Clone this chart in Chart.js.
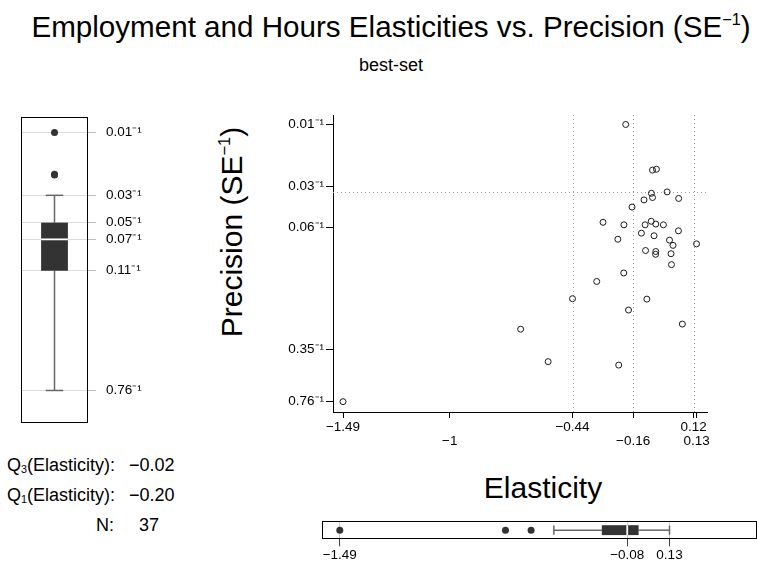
<!DOCTYPE html>
<html><head><meta charset="utf-8">
<script src="https://cdn.jsdelivr.net/npm/chart.js@4/dist/chart.umd.min.js"></script>
<style>
html,body{margin:0;padding:0;background:#fff;overflow:hidden;}
body{width:757px;height:562px;position:relative;font-family:"Liberation Sans",Arial,sans-serif;color:#000;}
canvas{position:absolute;}
.t{position:absolute;white-space:nowrap;line-height:1;}
.t sup{font-size:0.55em;vertical-align:0;position:relative;top:-0.75em;}
.t sub{font-size:0.6em;vertical-align:0;position:relative;top:0.15em;}
</style></head><body>
<div class="t" id="title" style="left:0;width:782px;text-align:center;top:12px;font-size:29.6px;">Employment and Hours Elasticities vs. Precision (SE<sup>&minus;1</sup>)</div>
<div class="t" id="subtitle" style="left:0;width:782px;text-align:center;top:55.5px;font-size:18px;">best-set</div>
<div class="t" id="ytitle" style="left:232px;top:232px;font-size:30px;transform:translate(-50%,-50%) rotate(-90deg);">Precision (SE<sup>&minus;1</sup>)</div>
<div class="t" id="xtitle" style="left:343px;width:400px;text-align:center;top:472.5px;font-size:30px;">Elasticity</div>
<div class="t" id="q3lab" style="left:7px;top:456.3px;font-size:18px;">Q<sub>3</sub>(Elasticity):</div>
<div class="t" id="q3val" style="left:129px;top:456.3px;font-size:18px;"></div>
<div class="t" id="q1lab" style="left:7px;top:486.3px;font-size:18px;">Q<sub>1</sub>(Elasticity):</div>
<div class="t" id="q1val" style="left:129px;top:486.3px;font-size:18px;"></div>
<div class="t" id="nlab" style="left:96px;top:516.3px;font-size:18px;">N:</div>
<div class="t" id="nval" style="left:139px;top:516.3px;font-size:18px;"></div>

<canvas id="left" width="170" height="340" style="left:0;top:100px;"></canvas>
<canvas id="main" width="557" height="362" style="left:200px;top:100px;"></canvas>
<canvas id="bottom" width="460" height="57" style="left:300px;top:505px;"></canvas>

<script>
// ---- data ----
const elasticity = [-0.193,-0.070,-0.052,-0.075,-0.003,-0.109,-0.070,0.050,-0.164,-0.297,
  -0.201,-0.104,-0.076,-0.055,-0.020,0.049,-0.121,-0.063,-0.229,0.008,
  0.024,0.132,-0.102,-0.055,-0.056,0.015,0.017,-0.202,-0.326,-0.437,
  -0.096,-0.180,0.067,-0.675,-0.549,-0.225,-1.490];
const stdErr = [0.0121,0.0239,0.0236,0.0338,0.0331,0.0373,0.0360,0.0365,0.0415,0.0521,
  0.0541,0.0541,0.0513,0.0535,0.0541,0.0592,0.0613,0.0637,0.0671,0.0680,
  0.0735,0.0719,0.0794,0.0806,0.0840,0.0833,0.0980,0.111,0.126,0.163,
  0.164,0.193,0.238,0.257,0.417,0.439,0.758];
// main plot ticks
const xTickValues = [-1.490,-1,-0.437,-0.159,0.119,0.132];
const xTickLabels = ['\u22121.49','\u22121','\u22120.44','\u22120.16','0.12','0.13'];
const yTickSE = [0.758,0.347,0.0565,0.0306,0.0121];
const yTickLabels = ['0.76\u207B\u00B9','0.35\u207B\u00B9','0.06\u207B\u00B9','0.03\u207B\u00B9','0.01\u207B\u00B9'];
// dotted reference lines
const refElasticity = [-0.437,-0.159,0.119];
const refSE = [0.0333];

const FONT = "'Liberation Sans', Arial, sans-serif";
Chart.defaults.font.family = FONT;
Chart.defaults.color = '#000';

const minus = s => s.replace('-', '\u2212');
function pctl(arr, p){ const s=[...arr].sort((a,b)=>a-b); const np=s.length*p/100; const i=Math.floor(np); return np===i ? (s[i-1]+s[i])/2 : s[i]; }
function boxStats(arr){
  const q1=pctl(arr,25), med=pctl(arr,50), q3=pctl(arr,75), r=1.5*(q3-q1);
  const inside=arr.filter(v=>v>=q1-r && v<=q3+r);
  return {q1,med,q3,lo:Math.min(...inside),hi:Math.max(...inside),out:arr.filter(v=>v<q1-r||v>q3+r),min:Math.min(...arr),max:Math.max(...arr)};
}
const precision = stdErr.map(s=>1/s);
const pStats = boxStats(precision);
const eStats = boxStats(elasticity);

document.getElementById('q3val').textContent = minus(pctl(elasticity,75).toFixed(2));
document.getElementById('q1val').textContent = minus(pctl(elasticity,25).toFixed(2));
document.getElementById('nval').textContent = String(elasticity.length);

function makeBox(cfg){
  return { id:'boxplot', beforeDatasetsDraw(chart){
    const ctx=chart.ctx, vs=chart.scales[cfg.valueAxis], cs=chart.scales[cfg.catAxis];
    const hor = cfg.valueAxis==='x';
    const pt=(v,c)=>{const a=vs.getPixelForValue(v), b=cs.getPixelForValue(c); return hor?[a,b]:[b,a];};
    const s=cfg.stats, c=cfg.center, w=cfg.halfWidth, k=cfg.capHalf;
    const seg=(p1,p2)=>{ctx.beginPath();ctx.moveTo(p1[0],p1[1]);ctx.lineTo(p2[0],p2[1]);ctx.stroke();};
    ctx.save();
    ctx.strokeStyle='#666'; ctx.lineWidth=1.5;
    seg(pt(s.lo,c),pt(s.q1,c)); seg(pt(s.q3,c),pt(s.hi,c));
    seg(pt(s.lo,c-k),pt(s.lo,c+k)); seg(pt(s.hi,c-k),pt(s.hi,c+k));
    const p1=pt(s.q1,c-w), p2=pt(s.q3,c+w);
    ctx.fillStyle='#333';
    ctx.fillRect(Math.min(p1[0],p2[0]),Math.min(p1[1],p2[1]),Math.abs(p2[0]-p1[0]),Math.abs(p2[1]-p1[1]));
    ctx.strokeStyle='#fff'; ctx.lineWidth=1.8;
    seg(pt(s.med,c-w),pt(s.med,c+w));
    ctx.restore();
  }};
}
const framePlugin = { id:'frame', afterDraw(chart){
  const {ctx, chartArea:a}=chart; ctx.save(); ctx.strokeStyle='#000'; ctx.lineWidth=1;
  ctx.strokeRect(Math.round(a.left)+0.5, Math.round(a.top)+0.5, Math.round(a.right-a.left)-1, Math.round(a.bottom-a.top)-1);
  ctx.restore(); } };
function makeRefLines(xs, ys){
  return { id:'refLines', beforeDatasetsDraw(chart){
    const {ctx, chartArea:a, scales:{x,y}}=chart; ctx.save();
    ctx.strokeStyle='#9a9a9a'; ctx.lineWidth=1; ctx.setLineDash([1,3]);
    xs.forEach(v=>{const px=Math.round(x.getPixelForValue(v))+0.5; ctx.beginPath(); ctx.moveTo(px,a.top); ctx.lineTo(px,a.bottom); ctx.stroke();});
    ys.forEach(v=>{const py=Math.round(y.getPixelForValue(v))+0.5; ctx.beginPath(); ctx.moveTo(a.left,py); ctx.lineTo(a.right,py); ctx.stroke();});
    ctx.restore(); } };
}
const tickFont = {size:13.5, family:FONT, lineHeight:1.05};

// ---- main scatter ----
const yTicksAsc = yTickSE.map((s,i)=>({value:1/s,label:yTickLabels[i]})).sort((a,b)=>a.value-b.value);
new Chart(document.getElementById('main'), {
  type:'scatter',
  data:{datasets:[{data:elasticity.map((e,i)=>({x:e,y:precision[i]})),
    pointStyle:'circle', pointRadius:3, pointHoverRadius:3, pointBorderWidth:1,
    pointBorderColor:'#1a1a1a', pointBackgroundColor:'rgba(0,0,0,0)'}]},
  options:{
    responsive:false, animation:false, devicePixelRatio:1,
    layout:{padding:{top:15,right:50,left:0,bottom:0}},
    plugins:{legend:{display:false}, tooltip:{enabled:false}},
    scales:{
      x:{type:'linear', min:-1.536, max:0.180,
        afterFit(s){s.height=50;},
        afterBuildTicks(s){s.ticks=xTickValues.map(v=>({value:v}));},
        ticks:{autoSkip:false, maxRotation:0, minRotation:0, padding:2, color:'#000', font:tickFont,
          callback:(v,i)=> i%2 ? ['',xTickLabels[i]] : xTickLabels[i]},
        grid:{drawOnChartArea:false, tickLength:6, color:'#000'},
        border:{color:'#000', width:1}},
      y:{type:'logarithmic', min:1.131, max:95.2,
        afterFit(s){s.width=133;},
        afterBuildTicks(s){s.ticks=yTicksAsc.map(t=>({value:t.value}));},
        ticks:{autoSkip:false, padding:2, color:'#000', font:tickFont, callback:(v,i)=>yTicksAsc[i].label},
        grid:{drawOnChartArea:false, tickLength:7, color:'#000'},
        border:{color:'#000', width:1}}
    }
  },
  plugins:[makeRefLines(refElasticity, refSE.map(s=>1/s))]
});

// ---- left precision box plot ----
const leftTickVals = [pStats.min,pStats.q1,pStats.med,pStats.q3,pStats.hi,pStats.max];
new Chart(document.getElementById('left'), {
  type:'scatter',
  data:{datasets:[{data:pStats.out.map(v=>({x:0.5,y:v})), pointStyle:'circle', pointRadius:3.5, pointHoverRadius:3.5,
    pointBorderWidth:0, pointBackgroundColor:'#333', pointBorderColor:'#333'}]},
  options:{
    responsive:false, animation:false, devicePixelRatio:1,
    layout:{padding:{left:21,top:14,bottom:12,right:0}},
    plugins:{legend:{display:false}, tooltip:{enabled:false}},
    scales:{
      x:{type:'linear', min:0, max:1, display:false},
      y:{type:'logarithmic', position:'right', min:0.784, max:106,
        afterFit(s){s.width=82;},
        afterBuildTicks(s){s.ticks=leftTickVals.map(v=>({value:v}));},
        ticks:{autoSkip:false, padding:10, color:'#000', font:tickFont,
          callback:(v)=>(1/v).toFixed(2)+'\u207B\u00B9'},
        grid:{color:'#dcdcdc', tickColor:'#bdbdbd', tickLength:8, lineWidth:1},
        border:{display:false}}
    }
  },
  plugins:[makeBox({stats:pStats, valueAxis:'y', catAxis:'x', center:0.5, halfWidth:0.2, capHalf:0.13}), framePlugin]
});

// ---- bottom elasticity box plot ----
const botTickVals = [eStats.min, eStats.med, eStats.hi];
new Chart(document.getElementById('bottom'), {
  type:'scatter',
  data:{datasets:[{data:eStats.out.map(v=>({x:v,y:0.5})), pointStyle:'circle', pointRadius:3.5, pointHoverRadius:3.5,
    pointBorderWidth:0, pointBackgroundColor:'#333', pointBorderColor:'#333'}]},
  options:{
    responsive:false, animation:false, devicePixelRatio:1,
    layout:{padding:{left:21.7,top:16,bottom:0,right:0}},
    plugins:{legend:{display:false}, tooltip:{enabled:false}},
    scales:{
      y:{type:'linear', min:0, max:1, display:false},
      x:{type:'linear', min:-1.579, max:0.560,
        afterFit(s){s.height=22.7;},
        afterBuildTicks(s){s.ticks=botTickVals.map(v=>({value:v}));},
        ticks:{autoSkip:false, maxRotation:0, minRotation:0, padding:2, color:'#000', font:tickFont,
          callback:(v)=>minus(v.toFixed(2))},
        grid:{color:'#d0d0d0', tickColor:'#444', tickLength:7, lineWidth:1},
        border:{display:false}}
    }
  },
  plugins:[makeBox({stats:eStats, valueAxis:'x', catAxis:'y', center:0.5, halfWidth:0.27, capHalf:0.25}), framePlugin]
});
</script>
</body></html>
